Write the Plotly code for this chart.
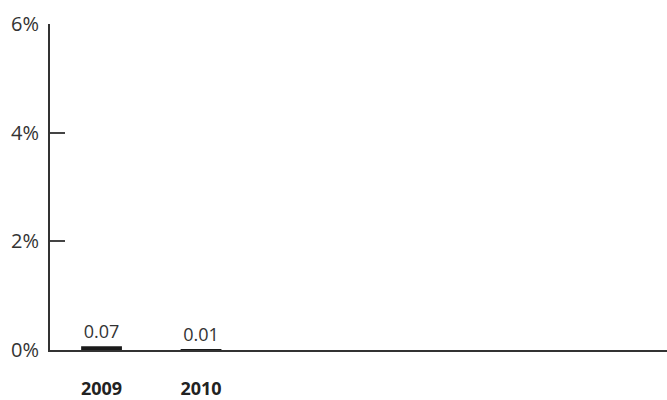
import plotly.graph_objects as go

years = ["2009", "2010"]
values = [0.07, 0.01]
value_labels = ["0.07", "0.01"]
y_ticks = [0, 2, 4, 6]
y_tick_labels = ["0%", "2%", "4%", "6%"]

fig = go.Figure()
fig.add_trace(go.Bar(
    x=years, y=values,
    width=0.41,
    marker=dict(color="#1a1a1a", line=dict(width=0)),
    text=value_labels,
    textposition="outside",
    textfont=dict(family="Open Sans", size=18, color="#333333"),
    cliponaxis=False,
    hoverinfo="skip",
))

fig.update_layout(
    width=667, height=400,
    margin=dict(l=50, r=0, t=24, b=50),
    paper_bgcolor="white", plot_bgcolor="white",
    showlegend=False,
    font=dict(family="Open Sans", color="#333333"),
)
fig.update_xaxes(
    type="category",
    range=[-0.518, 5.683],
    automargin=False,
    showgrid=False, zeroline=False,
    showline=True, linecolor="#333333", linewidth=1.5,
    ticks="",
    tickfont=dict(family="Open Sans", size=18, color="#222222", weight=700),
    ticklabelstandoff=22,
)
fig.update_yaxes(
    range=[0, 6],
    automargin=False,
    tickvals=y_ticks, ticktext=y_tick_labels,
    showgrid=False, zeroline=False,
    showline=True, linecolor="#333333", linewidth=2,
    ticks="inside", ticklen=15, tickwidth=1.5, tickcolor="#444444",
    tickfont=dict(family="Open Sans", size=20, color="#333333"),
    ticklabelstandoff=5,
)

fig.write_html(
    "out.html",
    config={"displayModeBar": False},
    post_script="document.body.style.margin='0';document.body.style.overflow='hidden';",
)
